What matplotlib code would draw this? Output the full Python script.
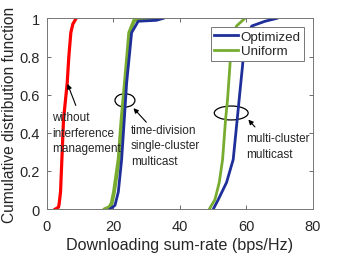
import matplotlib
matplotlib.use("Agg")
import matplotlib.pyplot as plt
from matplotlib.patches import Ellipse

plt.rcParams['font.family'] = ['Liberation Sans', 'DejaVu Sans']

# CDF curves: (x values, cumulative probability)
red_y = [0, 0.01, 0.03, 0.09, 0.26, 0.47, 0.66, 0.80, 0.925, 0.97, 1.0]
red_x = [2.5, 3.5, 3.7, 4.1, 4.5, 5.0, 6.1, 6.6, 7.2, 7.8, 8.8]

single_opt_y = [0, 0.02, 0.09, 0.26, 0.47, 0.66, 0.80, 0.925, 0.985, 0.99, 1.0]
single_opt_x = [19, 20.5, 21.5, 22.5, 23.3, 24.0, 24.8, 25.5, 27.5, 33, 35]

single_uni_y = [0, 0.01, 0.03, 0.09, 0.26, 0.47, 0.66, 0.80, 0.925, 0.99, 1.0]
single_uni_x = [17.5, 18.8, 19.5, 20.2, 21.6, 22.5, 23.5, 24.2, 24.8, 26.3, 33]

multi_opt_y = [0, 0.05, 0.14, 0.26, 0.47, 0.576, 0.75, 0.89, 0.96, 0.985, 1.0]
multi_opt_x = [50.1, 51.6, 54.1, 56.1, 57.3, 57.9, 58.9, 59.6, 61.7, 65.7, 69.2]

multi_uni_y = [0, 0.05, 0.14, 0.26, 0.47, 0.576, 0.75, 0.89, 0.96, 1.0]
multi_uni_x = [48.9, 50.6, 51.9, 52.9, 53.8, 54.4, 55.1, 55.6, 57.1, 59.6]

x_ticks = [0, 20, 40, 60, 80]
y_ticks = [0, 0.2, 0.4, 0.6, 0.8, 1]
y_tick_labels = ['0', '0.2', '0.4', '0.6', '0.8', '1']

blue = '#1F2F9A'
green = '#77AC30'
red = '#FF0000'
txt = '#262626'

fig = plt.figure(figsize=(3.45, 2.55), dpi=100)
ax = fig.add_axes([0.136, 0.176, 0.770, 0.748])

lw = 2.0
ax.plot(red_x, red_y, color=red, lw=lw + 0.3)
ax.plot(single_uni_x, single_uni_y, color=green, lw=lw + 0.8)
ax.plot(single_opt_x, single_opt_y, color=blue, lw=lw)
ax.plot(multi_opt_x, multi_opt_y, color=blue, lw=lw, label='Optimized')
ax.plot(multi_uni_x, multi_uni_y, color=green, lw=lw, label='Uniform')

ax.set_xlim(0, 80)
ax.set_ylim(0, 1)
ax.set_xticks(x_ticks)
ax.set_yticks(y_ticks)
ax.set_yticklabels(y_tick_labels)
ax.tick_params(direction='in', top=True, right=True, labelsize=10.5,
               length=3, width=0.6, color='#555555', labelcolor=txt)
ax.tick_params(axis='x', pad=7)
ax.tick_params(axis='y', pad=5)
for s in ax.spines.values():
    s.set_color('#777777')
    s.set_linewidth(0.7)

ax.set_xlabel('Downloading sum-rate (bps/Hz)', fontsize=11.6, labelpad=3, color=txt)
ax.set_ylabel('Cumulative distribution function', fontsize=11.2, labelpad=2, color=txt)

leg = ax.legend(loc='upper right', bbox_to_anchor=(0.968, 0.953), fontsize=9.6,
                fancybox=False, framealpha=1, edgecolor='#777777',
                handlelength=1.8, handletextpad=0.2, borderpad=0.25,
                labelspacing=0.15, borderaxespad=0)
leg.get_frame().set_linewidth(0.7)
for t in leg.get_texts():
    t.set_color(txt)

# ellipses
ax.add_patch(Ellipse((23.5, 0.57), 6.0, 0.07, fill=False, ec='black', lw=0.9))
ax.add_patch(Ellipse((55.5, 0.504), 10.2, 0.073, fill=False, ec='black', lw=0.9))

tfs = 8.5
ax.annotate('', xy=(5.9, 0.67), xytext=(9.0, 0.53),
            arrowprops=dict(arrowstyle='-|>', color='black', lw=0.8,
                            mutation_scale=7))
ax.annotate('', xy=(25.5, 0.54), xytext=(30.5, 0.445),
            arrowprops=dict(arrowstyle='-|>', color='black', lw=0.8,
                            mutation_scale=7))
ax.annotate('', xy=(60.1, 0.48), xytext=(63.2, 0.42),
            arrowprops=dict(arrowstyle='-|>', color='black', lw=0.8,
                            mutation_scale=7))

ax.text(1.6, 0.40, 'without\ninterference\nmanagement', fontsize=tfs,
        ha='left', va='center', linespacing=1.4, color=txt)
ax.text(25.3, 0.335, 'time-division\nsingle-cluster\nmulticast', fontsize=tfs,
        ha='left', va='center', linespacing=1.4, color=txt)
ax.text(60.0, 0.332, 'multi-cluster\nmulticast', fontsize=tfs,
        ha='left', va='center', linespacing=1.4, color=txt)

fig.savefig('out.png', dpi=100)
